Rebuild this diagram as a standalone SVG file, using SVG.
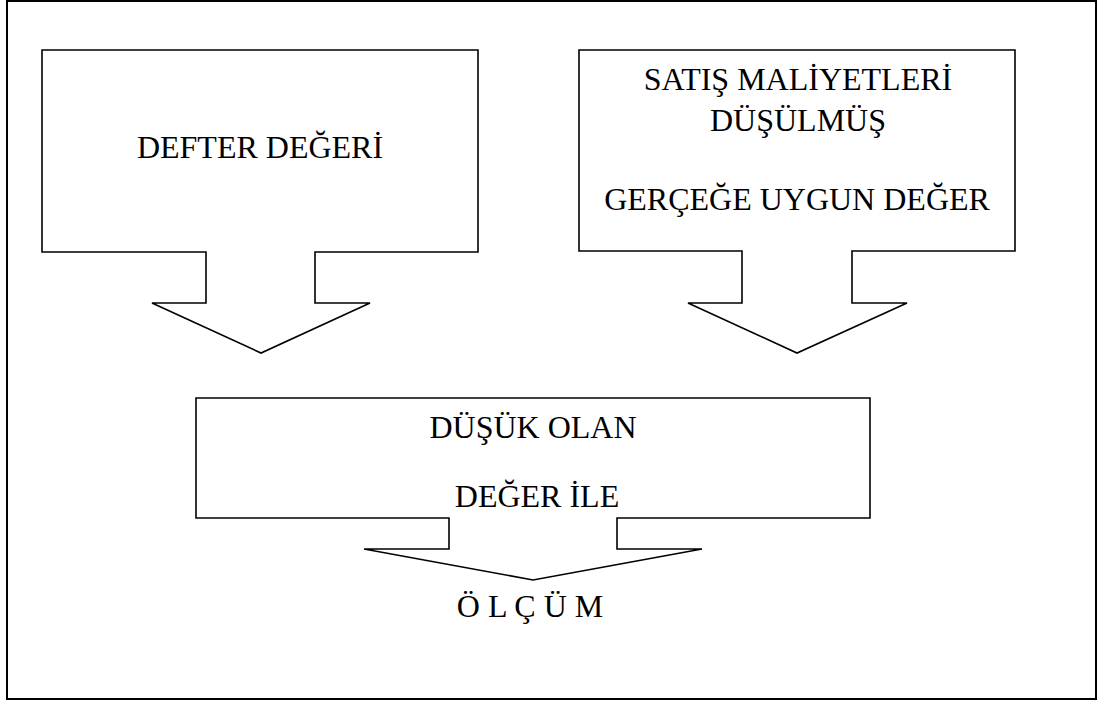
<svg xmlns="http://www.w3.org/2000/svg" width="1097" height="702" viewBox="0 0 1097 702">
  <style>
    .shape { fill: #ffffff; stroke: #000000; stroke-width: 1.6; stroke-linejoin: miter; }
    .frame { fill: #ffffff; stroke: #000000; stroke-width: 2; }
    .label { font-family: "Liberation Serif", "Times New Roman", serif; font-size: 32px; fill: #000000; text-anchor: middle; }
  </style>

  <!-- page frame -->
  <rect class="frame" x="7" y="1" width="1089" height="698"/>

  <!-- down-arrow callout: book value -->
  <g id="node-defter-degeri">
    <path class="shape" d="M42,50 H478 V252 H315 V303 H370 L261,353 L152,303 H206 V252 H42 Z"/>
    <text class="label" x="260" y="158">DEFTER DEĞERİ</text>
  </g>

  <!-- down-arrow callout: fair value less costs to sell -->
  <g id="node-gercege-uygun-deger">
    <path class="shape" d="M579,50 H1015 V251 H852 V303 H907 L797,353 L688,303 H742 V251 H579 Z"/>
    <text class="label" x="798" y="90">SATIŞ MALİYETLERİ</text>
    <text class="label" x="798" y="131">DÜŞÜLMÜŞ</text>
    <text class="label" x="797" y="210">GERÇEĞE UYGUN DEĞER</text>
  </g>

  <!-- down-arrow callout: measured at the lower value -->
  <g id="node-dusuk-olan">
    <path class="shape" d="M196,398 H870 V518 H617 V549 H702 L533,580 L364,549 H449 V518 H196 Z"/>
    <text class="label" x="533" y="438">DÜŞÜK OLAN</text>
    <text class="label" x="537" y="507">DEĞER İLE</text>
  </g>

  <g id="node-olcum">
    <text class="label" x="530" y="617">Ö L Ç Ü M</text>
  </g>

  <g id="connectors"/>
</svg>
